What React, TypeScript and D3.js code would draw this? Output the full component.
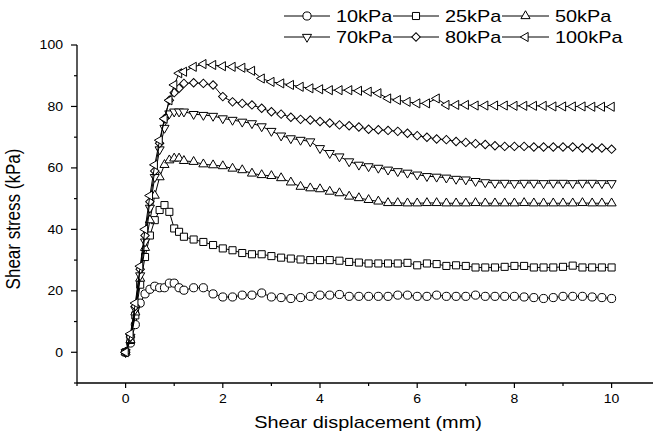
import React from "react";
import * as d3 from "d3";

// shear displacement (mm), denser sampling during the initial rise
const displacement = [
  0, 0.1, 0.2, 0.3, 0.4, 0.5, 0.6, 0.7, 0.8, 0.9, 1.0, 1.1, 1.2,
  1.4, 1.6, 1.8, 2.0, 2.2, 2.4, 2.6, 2.8, 3.0, 3.2, 3.4, 3.6, 3.8, 4.0,
  4.2, 4.4, 4.6, 4.8, 5.0, 5.2, 5.4, 5.6, 5.8, 6.0, 6.2, 6.4, 6.6, 6.8,
  7.0, 7.2, 7.4, 7.6, 7.8, 8.0, 8.2, 8.4, 8.6, 8.8, 9.0, 9.2, 9.4, 9.6,
  9.8, 10.0,
];

const stress10 = [
  0, 3, 9, 16, 19, 20.5, 21.5, 21, 21, 22.5, 22.5, 21, 20.2, 21, 21, 19, 18, 18, 18.6,
  18.6, 19.3, 18.0, 17.8, 17.5, 17.8, 18.2, 18.6, 18.6, 18.8, 18.2, 18.2, 18.2, 18.2,
  18.2, 18.6, 18.6, 18.2, 18.2, 18.6, 18.2, 18.2, 18.2, 18.6, 18.2, 18.2, 18.2, 18.2,
  18.0, 17.8, 17.5, 17.8, 18.2, 18.2, 18.2, 18.0, 17.8, 17.5,
];
const stress25 = [
  0, 4, 12, 22, 31, 38, 43, 46.3, 47.9, 45.7, 40.3, 39.2, 37.6, 36.7, 35.9, 34.9, 33.8, 33.2, 32.3,
  31.9, 31.9, 31.3, 30.8, 30.5, 30.2, 30.0, 30.0, 30.0, 29.8, 29.4, 29.2, 28.9, 28.9,
  28.9, 28.9, 29.1, 28.3, 28.9, 28.7, 28.1, 28.3, 28.1, 27.6, 27.6, 27.6, 27.8, 28.1,
  28.1, 27.6, 27.6, 27.6, 27.8, 28.2, 27.6, 27.6, 27.6, 27.6,
];
const stress50 = [
  0, 4, 13, 24, 34, 43, 51, 57, 61, 62.5, 63.1, 63.1, 62.3, 62.0, 61.2, 60.9, 60.6, 59.8, 59.3,
  58.2, 57.7, 57.4, 56.7, 55.3, 53.9, 53.4, 53.1, 52.3, 51.8, 50.7, 50.2, 49.6, 49.1,
  48.6, 48.6, 48.5, 48.5, 48.6, 48.6, 48.5, 48.5, 48.5, 48.6, 48.5, 48.5, 48.5, 48.5,
  48.6, 48.5, 48.5, 48.5, 48.5, 48.5, 48.6, 48.5, 48.5, 48.5,
];
const stress70 = [
  0, 5, 14, 25, 36, 47, 57, 66, 73, 77.7, 78.3, 78.3, 78.3, 77.5, 77.2, 76.9, 76.1, 75.6, 75.0,
  74.5, 73.5, 72.0, 70.5, 69.6, 69.1, 68.6, 66.4, 64.8, 63.7, 62.1, 61.0, 60.5, 60.0,
  59.4, 58.9, 58.4, 57.8, 57.3, 57.1, 56.8, 56.4, 56.2, 55.7, 55.3, 55.1, 55.1, 55.0,
  55.1, 55.1, 55.0, 55.1, 55.1, 55.0, 55.1, 55.1, 55.0, 55.0,
];
const stress80 = [
  0, 5, 15, 27, 38, 49, 59, 68, 76, 82, 84.5, 85.9, 87.5, 87.7, 87.5, 87.0, 83.2, 81.5, 81.0,
  80.5, 79.4, 78.3, 77.5, 76.5, 75.8, 75.6, 75.1, 74.6, 74.0, 73.7, 73.3, 72.6, 72.4,
  72.2, 71.9, 71.3, 70.5, 70.0, 69.4, 69.2, 68.6, 68.3, 67.9, 67.6, 67.2, 67.0, 67.0,
  67.0, 66.8, 66.8, 66.8, 66.8, 66.8, 66.5, 66.5, 66.5, 66.1,
];
const stress100 = [
  0, 6, 16, 28, 40, 51, 61, 69, 76, 82, 87, 90.8, 91.3, 92.9, 93.8, 93.5, 93.1, 92.9, 92.6,
  91.6, 89.1, 88.0, 87.5, 87.0, 86.4, 85.9, 85.6, 85.3, 85.3, 85.3, 85.1, 84.8, 84.3,
  82.6, 82.1, 81.5, 81.0, 81.0, 82.6, 80.5, 80.5, 80.5, 80.3, 80.3, 80.3, 80.3, 80.2,
  80.2, 80.2, 80.2, 80.0, 80.0, 80.0, 80.0, 79.9, 79.9, 79.9,
];

const seriesNames = ["10kPa", "25kPa", "50kPa", "70kPa", "80kPa", "100kPa"];
const seriesValues = [stress10, stress25, stress50, stress70, stress80, stress100];
const markerKinds = ["circle", "square", "up", "down", "diamond", "left"];

const xTicks = [0, 2, 4, 6, 8, 10];
const xMinorTicks = [-1, 1, 3, 5, 7, 9, 11];
const yTicks = [0, 20, 40, 60, 80, 100];
const yMinorTicks = [-10, 10, 30, 50, 70, 90];

const W = 653;
const H = 435;
const FONT = "'Liberation Sans', Arial, Helvetica, sans-serif";
const STRETCH = "scale(1.17,1)";

const x = d3.scaleLinear().domain([-1, 11]).range([77, 660.2]);
const y = d3.scaleLinear().domain([-10, 100]).range([383, 45]);

const circlePath = d3.symbol(d3.symbolCircle, 52)()!;
const squarePath = d3.symbol(d3.symbolSquare, 50)()!;
const triPath = d3.symbol(d3.symbolTriangle, 36)()!;
const diamondPath = d3.symbol(d3.symbolSquare, 36)()!;

function Marker({ kind, cx, cy }: { kind: string; cx: number; cy: number }) {
  let d = circlePath;
  let rot = 0;
  if (kind === "square") d = squarePath;
  if (kind === "up") d = triPath;
  if (kind === "down") { d = triPath; rot = 180; }
  if (kind === "left") { d = triPath; rot = -90; }
  if (kind === "diamond") { d = diamondPath; rot = 45; }
  return (
    <path
      d={d}
      transform={`translate(${cx},${cy}) rotate(${rot})`}
      fill="#fff"
      stroke="#000"
      strokeWidth={1}
    />
  );
}

const line = d3
  .line<number>()
  .x((_, i) => x(displacement[i]))
  .y((v) => y(v));

// legend slots: [line start, line end, text start], rows at y centres
const legendCols = [
  [284, 330, 336],
  [393, 439, 445],
  [502, 549, 555],
];
const legendRows = [16, 37];

export default function App() {
  return (
    <svg
      width={W}
      height={H}
      style={{ position: "absolute", left: 0, top: 0, background: "#fff" }}
      fontFamily={FONT}
    >
      {/* series */}
      {seriesValues.map((vals, s) => (
        <g key={seriesNames[s]}>
          <path d={line(vals)!} fill="none" stroke="#000" strokeWidth={1} />
          {vals.map((v, i) => (
            <Marker key={i} kind={markerKinds[s]} cx={x(displacement[i])} cy={y(v)} />
          ))}
        </g>
      ))}

      {/* axes */}
      <line x1={x(-1)} x2={x(-1)} y1={y(100)} y2={y(-10)} stroke="#000" strokeWidth={1.3} />
      <line x1={x(-1)} x2={W} y1={y(-10)} y2={y(-10)} stroke="#000" strokeWidth={1.3} />

      {xTicks.map((t) => (
        <g key={"xt" + t}>
          <line x1={x(t)} x2={x(t)} y1={y(-10)} y2={y(-10) + 5} stroke="#000" strokeWidth={1.2} />
          <text
            transform={`translate(${x(t)},${403}) ${STRETCH}`}
            textAnchor="middle"
            fontSize={12}
          >
            {t}
          </text>
        </g>
      ))}
      {xMinorTicks.map((t) => (
        <line key={"xm" + t} x1={x(t)} x2={x(t)} y1={y(-10)} y2={y(-10) + 3} stroke="#000" strokeWidth={1.2} />
      ))}

      {yTicks.map((t) => (
        <g key={"yt" + t}>
          <line x1={x(-1) - 6} x2={x(-1)} y1={y(t)} y2={y(t)} stroke="#000" strokeWidth={1.2} />
          <text
            transform={`translate(${63},${y(t) + 4.3}) ${STRETCH}`}
            textAnchor="end"
            fontSize={12}
          >
            {t}
          </text>
        </g>
      ))}
      {yMinorTicks.map((t) => (
        <line key={"ym" + t} x1={x(-1) - 3} x2={x(-1)} y1={y(t)} y2={y(t)} stroke="#000" strokeWidth={1.2} />
      ))}

      <text transform={`translate(368,428) ${STRETCH}`} textAnchor="middle" fontSize={17}>
        Shear displacement (mm)
      </text>
      <text transform={`translate(20,219) ${STRETCH} rotate(-90)`} textAnchor="middle" fontSize={17}>
        Shear stress (kPa)
      </text>

      {/* legend */}
      {seriesNames.map((name, s) => {
        const [x0, x1, tx] = legendCols[s % 3];
        const cy = legendRows[Math.floor(s / 3)];
        return (
          <g key={"lg" + name}>
            <line x1={x0} x2={x1} y1={cy} y2={cy} stroke="#000" strokeWidth={1} />
            <Marker kind={markerKinds[s]} cx={(x0 + x1) / 2} cy={cy} />
            <text transform={`translate(${tx},${cy + 6}) ${STRETCH}`} fontSize={17}>
              {name}
            </text>
          </g>
        );
      })}
    </svg>
  );
}
